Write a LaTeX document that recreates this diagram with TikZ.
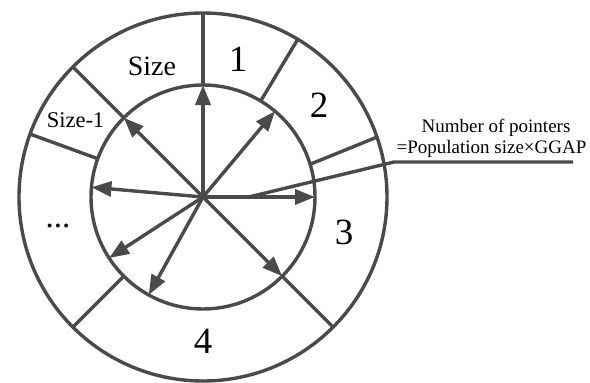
\documentclass[tikz,border=0pt]{standalone}
\usepackage{fontspec}
\setmainfont{Liberation Serif}
\usetikzlibrary{arrows.meta,calc}
\definecolor{ln}{HTML}{4A4A4A}
\begin{document}
\begin{tikzpicture}[x=1pt,y=1pt,
  ring/.style={draw=ln,line width=3.4pt,circle,inner sep=0pt,outer sep=0pt},
  divider/.style={draw=ln,line width=3.4pt},
  pointer/.style={draw=ln,line width=3.4pt,-{Triangle[length=20pt,width=15pt]}},
  leader/.style={draw=ln,line width=3.4pt},
  digit/.style={anchor=base,inner sep=0pt,font=\fontsize{37}{44}\selectfont},
  big/.style={anchor=base,inner sep=0pt,font=\fontsize{28}{34}\selectfont},
  small/.style={anchor=base,inner sep=0pt,font=\fontsize{22.5}{27}\selectfont},
  note/.style={anchor=base,inner sep=0pt,font=\fontsize{19}{23}\selectfont}]
\path[use as bounding box] (0,0) rectangle (590,-383);
\coordinate (c) at (203,-197);
\node[ring,minimum size=368pt] (outer) at (c) {};
\node[ring,minimum size=224pt] (inner) at (c) {};
% dividers
\foreach \a in {90,59.5,-45,225,160,135}
  \draw[divider] (inner.\a) -- (outer.\a);
\draw[divider] (inner.17.5) -- (outer.19.7);
% pointers
\foreach \a in {90,50.3,135,175.3,-0.5,213,241,-45}
  \draw[pointer] (c) -- (inner.\a);
% leader line
\coordinate (p1) at (247,-197.4);
\coordinate (p2) at (394,-162);
\coordinate (p3) at (573,-162);
\draw[leader] (p1) -- (p2) -- (p3);
% labels
\node[big] (size) at (152,-75) {Size};
\node[small] (sizem) at (75.5,-127) {Size-1};
\node[digit] (n1) at (238,-71) {1};
\node[digit] (n2) at (319,-117) {2};
\node[digit] (n3) at (344,-244) {3};
\node[digit] (n4) at (203,-353) {4};
\node[big,font=\fontsize{33}{40}\selectfont] (dots) at (58,-227) {...};
\node[note] (l1) at (496,-132) {Number of pointers};
\node[note] (l2) at (491.5,-153) {=Population size×GGAP};
\end{tikzpicture}
\end{document}
